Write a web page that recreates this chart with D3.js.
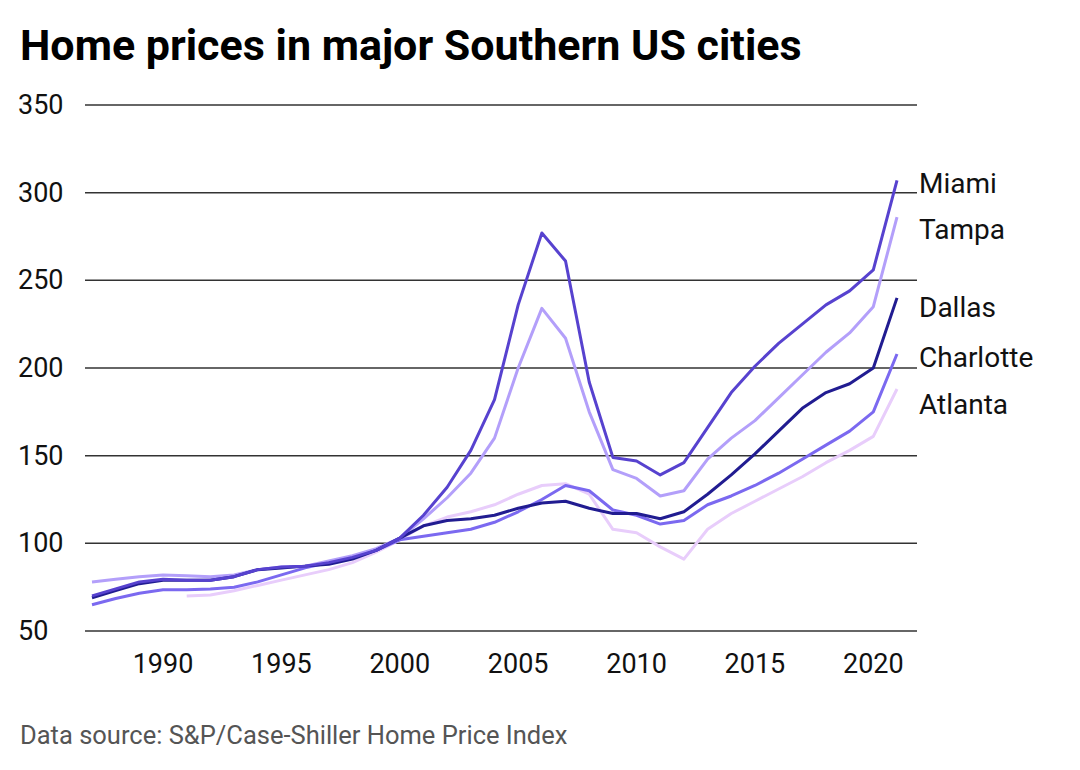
<!DOCTYPE html>
<html><head><meta charset="utf-8">
<script src="https://cdn.jsdelivr.net/npm/d3@7"></script>
<style>body{margin:0;background:#fff;font-family:Roboto,sans-serif}</style>
</head><body><svg id="c" width="1080" height="770"></svg>
<script>
const years = d3.range(1987, 2022);
const miami = [70,74,78,79.5,79,79,81,85,86.5,87,89,92,96,103,116,132,153,182,236,277,261,192,149,147,139,146,166,186,201,214,225,236,244,256,307];
const tampa = [78,79.5,81,82,81.5,81,82,85,86.5,87,90,93,97,103,114,126,140,160,200,234,217,175,142,137,127,130,148,160,170,183,196,209,220,235,286];
const dallas = [69,73,77,79,79,79,81,85,86,87,88,91,96,103,110,113,114,116,120,123,124,120,117,117,114,118,128,139,151,164,177,186,191,200,240];
const charlotte = [65,68.5,71.5,73.5,73.5,74,75,78,82,86,89,92,96,102,104,106,108,112,118,125,133,130,119,116,111,113,122,127,133,140,148,156,164,175,208];
const atlanta = [null,null,null,null,70,70.5,73,76,79,82,85,89,95,102,110,115,118,122,128,133,134,128,108,106,98,91,108,117,124,131,138,146,153,161,188];
const yTicks = [50,100,150,200,250,300,350];
const xTicks = [1990,1995,2000,2005,2010,2015,2020];
const series = [
 {name:"Atlanta",values:atlanta,color:"#e8cdfb",ly:404},
 {name:"Charlotte",values:charlotte,color:"#7b69f0",ly:357},
 {name:"Tampa",values:tampa,color:"#b39ffa",ly:229},
 {name:"Dallas",values:dallas,color:"#211c91",ly:307},
 {name:"Miami",values:miami,color:"#5742cf",ly:183}
];
const svg=d3.select("#c");
const x=d3.scaleLinear().domain([1987,2021]).range([92,897]);
const y=d3.scaleLinear().domain([50,350]).range([631,105]);
svg.append("text").attr("x",20).attr("y",60).attr("font-size",43).attr("font-weight",700).attr("fill","#000").text("Home prices in major Southern US cities");
const g=svg.append("g");
yTicks.forEach(t=>{
  g.append("line").attr("x1",85).attr("x2",917).attr("y1",y(t)).attr("y2",y(t)).attr("stroke","#333").attr("stroke-width",1.5);
  g.append("text").attr("x",18).attr("y",y(t)+9).attr("font-size",27).attr("fill","#111").text(t);
});
xTicks.forEach(t=>{
  g.append("text").attr("x",x(t)).attr("y",673).attr("text-anchor","middle").attr("font-size",27).attr("fill","#111").text(t);
});
const line=d3.line().defined(d=>d!=null).x((d,i)=>x(years[i])).y(d=>y(d));
series.forEach(s=>{
  g.append("path").attr("d",line(s.values)).attr("fill","none").attr("stroke",s.color).attr("stroke-width",3).attr("stroke-linejoin","round");
  g.append("text").attr("x",919).attr("y",s.ly+10).attr("font-size",28).attr("fill","#111").text(s.name);
});
svg.append("text").attr("x",20).attr("y",744).attr("font-size",25.5).attr("fill","#555").text("Data source: S&P/Case-Shiller Home Price Index");
</script></body></html>
